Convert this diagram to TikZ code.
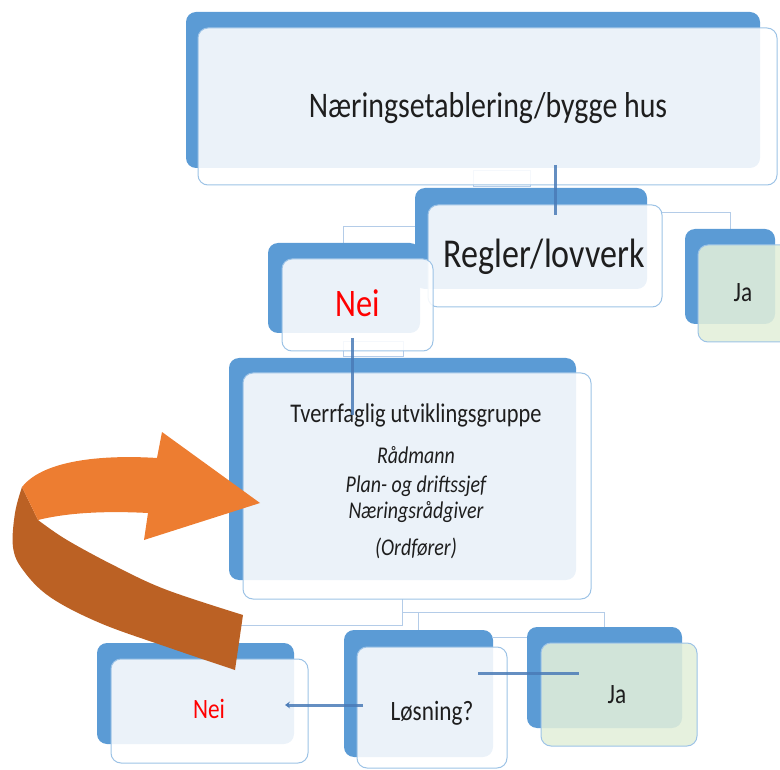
\documentclass[tikz,border=0pt]{standalone}
\usepackage{fontspec}
\setmainfont{Carlito}
\usepackage{graphicx}
\usetikzlibrary{calc,arrows.meta}
\definecolor{bblue}{HTML}{5B9BD5}
\definecolor{fborder}{HTML}{9DC3E6}
\definecolor{lconnc}{HTML}{B4CCE8}
\definecolor{dblue}{HTML}{4A7BB7}
\definecolor{gfill}{HTML}{E2EFDA}
\definecolor{aorange}{HTML}{ED7D31}
\definecolor{abrown}{HTML}{BB6124}
\definecolor{tdark}{HTML}{1E1E1E}
\definecolor{tred}{HTML}{FF0000}
\newcommand{\sq}[1]{\scalebox{0.83}[1]{#1}}
\newcommand{\fs}[1]{\fontsize{#1}{#1}\selectfont}
\pgfdeclarelayer{bg}
\pgfsetlayers{bg,main}
\tikzset{
  back/.style={fill=bblue, rounded corners=10pt, anchor=north west, inner sep=0pt, outer sep=0pt},
  front/.style={fill=white, fill opacity=0.88, draw=fborder, draw opacity=1, line width=1pt, rounded corners=10pt, anchor=north west, inner sep=0pt, outer sep=0pt},
  gfront/.style={front, fill=gfill},
  txt/.style={inner sep=0pt, outer sep=0pt, anchor=base, text=tdark},
  dconn/.style={draw=dblue, line width=3pt, draw opacity=0.85},
  lconn/.style={draw=lconnc, line width=1pt},
}
\begin{document}
\begin{tikzpicture}[x=1pt,y=-1pt]
\useasboundingbox (0,0) rectangle (780,770);
\clip (0,0) rectangle (780,770);
% helper coordinates
\coordinate (xa) at (555,0);
\coordinate (xb) at (352,0);
\coordinate (yc) at (0,705);
\coordinate (yd) at (0,673);
\coordinate (hub) at (402,625);
\coordinate (hubb) at (402,612);

% back boxes
\node[back, minimum width=574, minimum height=156] (topb) at (186,12) {};
\node[back, minimum width=232, minimum height=101] (reglb) at (415,188) {};
\node[back, minimum width=152, minimum height=90] (nei1b) at (268,243) {};
\node[back, minimum width=90, minimum height=95] (ja1b) at (685,229) {};
\node[back, minimum width=347, minimum height=222] (tvb) at (229,358) {};
\node[back, minimum width=197, minimum height=101] (nei2b) at (97,643) {};
\node[back, minimum width=149, minimum height=127] (losb) at (344,630) {};
\node[back, minimum width=155, minimum height=101] (ja2b) at (527,627) {};

% front boxes
\node[front, minimum width=579, minimum height=157] (topf) at (198,28) {};
\node[front, minimum width=234, minimum height=102] (reglf) at (428,205) {};
\node[front, minimum width=151, minimum height=92] (nei1f) at (282,259) {};
\node[gfront, minimum width=95, minimum height=97] (ja1f) at (698,245) {};
\node[front, minimum width=348, minimum height=226] (tvf) at (243,373) {};
\node[front, minimum width=197, minimum height=104] (nei2f) at (111,659) {};
\node[front, minimum width=150, minimum height=121] (losf) at (357,647) {};
\node[gfront, minimum width=156, minimum height=103] (ja2f) at (541,643) {};

% light connectors (behind the boxes)
\begin{pgfonlayer}{bg}
\draw[lconn] ($(topf.south)+(-14,-14)$) rectangle ($(reglb.north)+(-1,-1)$);
\draw[lconn] ($(reglb.north west)+(0,39)$) -| ([xshift=-1pt]nei1b.north);
\draw[lconn] ($(reglf.north east)+(0,8)$) -| (ja1b.north);
\draw[lconn] ($(nei1b.south)+(-1,9)$) rectangle ($(tvb.north)+(0.5,-1)$);
\draw[lconn] (tvf.south -| hub) -- (hub) -| (nei2b.north);
\draw[lconn] (hubb) -| (losb.north);
\draw[lconn] (hubb) -| (ja2b.north);
\draw[lconn] ($(losb.north east)+(0,7)$) -- ($(ja2b.north west)+(0,10)$);
\end{pgfonlayer}

% texts
\node[txt, font=\fs{36}] (t1) at (488,118) {\sq{Næringsetablering/bygge hus}};
\node[txt, font=\fs{41}] (t2) at (544,268) {\sq{Regler/lovverk}};
\node[txt, font=\fs{39}, text=tred] (t3) at (358,317) {\sq{Nei}};
\node[txt, font=\fs{28}] (t4) at (743,302) {\sq{Ja}};
\node[txt, font=\fs{27}] (t5) at (416,422) {\sq{Tverrfaglig utviklingsgruppe}};
\node[txt, font=\fs{24}\itshape] (t6) at (416,463) {\sq{Rådmann}};
\node[txt, font=\fs{24}\itshape] (t7) at (416,492) {\sq{Plan- og driftssjef}};
\node[txt, font=\fs{24}\itshape] (t8) at (416,518) {\sq{Næringsrådgiver}};
\node[txt, font=\fs{24}\itshape] (t9) at (416,555) {\sq{(Ordfører)}};
\node[txt, font=\fs{28}, text=tred] (t10) at (209,718) {\sq{Nei}};
\node[txt, font=\fs{28}] (t11) at (432,720) {\sq{Løsning?}};
\node[txt, font=\fs{28}] (t12) at (617,703) {\sq{Ja}};

% dark connectors
\draw[dconn] ($(topb.south -| xa)+(0,-3)$) -- ($(reglf.north -| xa)+(0,10)$);
\draw[dconn] ($(nei1f.south -| xb)+(0,-13)$) -- ($(tvf.north -| xb)+(0,42)$);
\draw[dconn, -{Stealth[length=5pt,width=7pt]}] ($(losf.west |- yc)+(6,0)$) -- ($(nei2f.east |- yc)+(-23,0)$);
\draw[dconn] ($(losf.east |- yd)+(-29,0)$) -- ($(ja2f.west |- yd)+(38,0)$);

% orange curved arrow
\fill[abrown] plot[smooth, tension=0.6] coordinates {(22,487) (15,513) (13,547) (23,570) (50,597) (100,623) (167,647) (235,670)}
  -- (243,615)
  -- plot[smooth, tension=0.6] coordinates {(243,615) (167,590) (117,567) (67,540) (38,520)} -- cycle;
\fill[aorange] (260,503) -- (162,432) -- (157,458)
  .. controls (110,455) and (45,458) .. (22,487)
  -- (38,520)
  .. controls (70,512) and (110,511) .. (148,513)
  -- (144,540) -- cycle;
\end{tikzpicture}
\end{document}
